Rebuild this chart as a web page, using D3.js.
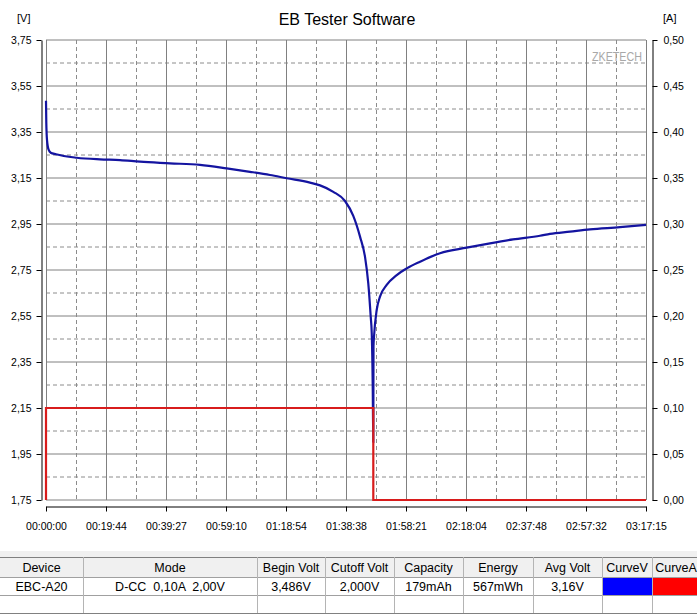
<!DOCTYPE html>
<html>
<head>
<meta charset="utf-8">
<script src="https://cdn.jsdelivr.net/npm/d3@7/dist/d3.min.js"></script>
<style>
body { margin: 0; background: #fff; }
svg { display: block; font-family: "Liberation Sans", Arial, sans-serif; }
</style>
</head>
<body>
<script>
// ---------------------------------------------------------------------------
// Data read off the EB Tester discharge log
// ---------------------------------------------------------------------------
var totalSeconds = 11835;   // 03:17:15

var timeLabels = ["00:00:00", "00:19:44", "00:39:27", "00:59:10", "01:18:54",
    "01:38:38", "01:58:21", "02:18:04", "02:37:48", "02:57:32", "03:17:15"];

var voltTicks = [1.75, 1.95, 2.15, 2.35, 2.55, 2.75, 2.95, 3.15, 3.35, 3.55,
    3.75];
var ampTicks = [0, 0.05, 0.10, 0.15, 0.20, 0.25, 0.30, 0.35, 0.40, 0.45, 0.50];

// voltage curve (seconds, volts)
var voltTime = [0, 6, 20, 53, 93, 197, 606, 1065, 1460, 1854, 2446, 3038,
    3564, 4024, 4418, 4748, 5207, 5405, 5667, 5898, 6061, 6194, 6292, 6357,
    6405, 6425, 6444, 6456, 6460, 6470, 6523, 6588, 6720, 6918, 7115, 7377,
    7772, 8298, 8758, 9212, 9744, 9941, 10336, 10730, 11322, 11835];
var voltValues = [3.486, 3.389, 3.315, 3.272, 3.260, 3.253, 3.238, 3.231,
    3.228, 3.221, 3.214, 3.207, 3.192, 3.177, 3.163, 3.149, 3.130, 3.118,
    3.090, 3.050, 2.985, 2.895, 2.808, 2.692, 2.547, 2.476, 2.259, 2.000,
    2.420, 2.460, 2.576, 2.634, 2.685, 2.728, 2.757, 2.786, 2.823, 2.847,
    2.866, 2.883, 2.899, 2.907, 2.917, 2.927, 2.936, 2.946];

// current curve (seconds, amps)
var ampTime = [0, 0, 6456, 6456, 11835];
var ampValues = [0, 0.10, 0.10, 0, 0];

// summary table
var tableHeaders = ["Device", "Mode", "Begin Volt", "Cutoff Volt", "Capacity",
    "Energy", "Avg Volt", "CurveV", "CurveA"];
var tableValues = ["EBC-A20", "D-CC  0,10A  2,00V", "3,486V", "2,000V",
    "179mAh", "567mWh", "3,16V", "", ""];
var curveColors = ["#0000ff", "#ff0000"];

// ---------------------------------------------------------------------------
var W = 697, H = 614;
var plot = {left: 46, right: 646, top: 40, bottom: 500};

var svg = d3.select("body").append("svg")
    .attr("width", W)
    .attr("height", H);

var xScale = d3.scaleLinear().domain([0, totalSeconds])
    .range([plot.left, plot.right]);
var yVolt = d3.scaleLinear().domain([1.75, 3.75])
    .range([plot.bottom, plot.top]);
var yAmp = d3.scaleLinear().domain([0, 0.5])
    .range([plot.bottom, plot.top]);

var comma = function(f) {
    return function(d) { return d3.format(f)(d).replace(".", ","); };
};

// x positions of the time ticks, one per label
var xTicks = timeLabels.map(function(d, i) {
    return i * totalSeconds / (timeLabels.length - 1);
});

// grid: solid lines on ticks, dashed half way between
var grid = svg.append("g");
voltTicks.forEach(function(v, i) {
    grid.append("line")
        .attr("x1", plot.left).attr("x2", plot.right)
        .attr("y1", yVolt(v)).attr("y2", yVolt(v))
        .attr("stroke", "#808080");
    if (i < voltTicks.length - 1) {
        var mid = yVolt(v + 0.1);
        grid.append("line")
            .attr("x1", plot.left).attr("x2", plot.right)
            .attr("y1", mid).attr("y2", mid)
            .attr("stroke", "#8c8c8c")
            .attr("stroke-dasharray", "4,3");
    }
});
xTicks.forEach(function(t, i) {
    var x = Math.round(xScale(t)) + 0.5;
    grid.append("line")
        .attr("x1", x).attr("x2", x)
        .attr("y1", plot.top).attr("y2", plot.bottom)
        .attr("stroke", "#808080");
    if (i < xTicks.length - 1) {
        var mx = Math.round(xScale(t + totalSeconds / 20)) + 0.5;
        grid.append("line")
            .attr("x1", mx).attr("x2", mx)
            .attr("y1", plot.top).attr("y2", plot.bottom)
            .attr("stroke", "#8c8c8c")
            .attr("stroke-dasharray", "4,3");
    }
});

// watermark
svg.append("text")
    .attr("x", 642).attr("y", 61)
    .attr("text-anchor", "end")
    .attr("font-size", "12px")
    .attr("fill", "#a8a8a8")
    .attr("textLength", 50)
    .attr("lengthAdjust", "spacingAndGlyphs")
    .text("ZKETECH");

// axes
var leftAxis = svg.append("g")
    .attr("transform", "translate(41.5,0)")
    .call(d3.axisLeft(yVolt).tickValues(voltTicks).tickFormat(comma(".2f"))
        .tickSize(5).tickSizeOuter(0).tickPadding(5));

var rightAxis = svg.append("g")
    .attr("transform", "translate(652.5,0)")
    .call(d3.axisRight(yAmp).tickValues(ampTicks).tickFormat(comma(".2f"))
        .tickSize(5).tickSizeOuter(0).tickPadding(6));

var bottomAxis = svg.append("g")
    .attr("transform", "translate(0,506.5)")
    .call(d3.axisBottom(xScale).tickValues(xTicks)
        .tickFormat(function(d, i) { return timeLabels[i]; })
        .tickSize(5).tickSizeOuter(0).tickPadding(11));

[leftAxis, rightAxis, bottomAxis].forEach(function(a) {
    a.selectAll("text").attr("font-size", "10.5px")
        .attr("font-family", "Liberation Sans, Arial, sans-serif")
        .attr("fill", "#000");
    a.selectAll("path, line").attr("stroke", "#000");
});

// curves
var voltLine = d3.line()
    .curve(d3.curveMonotoneX)
    .x(function(d) { return xScale(d[0]); })
    .y(function(d) { return yVolt(d[1]); });
var ampLine = d3.line()
    .x(function(d) { return xScale(d[0]); })
    .y(function(d) { return yAmp(d[1]); });

svg.append("path")
    .datum(d3.zip(voltTime, voltValues))
    .attr("d", voltLine)
    .attr("fill", "none")
    .attr("stroke", "#1414a0")
    .attr("stroke-width", 2.2)
    .attr("stroke-linejoin", "round");

svg.append("path")
    .datum(d3.zip(ampTime, ampValues))
    .attr("d", ampLine)
    .attr("fill", "none")
    .attr("stroke", "#d81c1c")
    .attr("stroke-width", 2.2);

// titles
svg.append("text")
    .attr("x", 347).attr("y", 25)
    .attr("text-anchor", "middle")
    .attr("font-size", "16px")
    .text("EB Tester Software");
svg.append("text")
    .attr("x", 17).attr("y", 22)
    .attr("font-size", "11px")
    .text("[V]");
svg.append("text")
    .attr("x", 663).attr("y", 22)
    .attr("font-size", "11px")
    .text("[A]");

// ---------------------------------------------------------------------------
// summary table under the chart
// ---------------------------------------------------------------------------
var colEdges = [0, 83, 257, 325, 394, 463, 533, 602, 652, 700];
var rowTop = 557, headerH = 20, rowH = 18;
var table = svg.append("g");

table.append("rect")
    .attr("x", 0).attr("y", 551).attr("width", W).attr("height", 6)
    .attr("fill", "#f0f0f0");
table.append("rect")
    .attr("x", 0).attr("y", rowTop).attr("width", W).attr("height", headerH)
    .attr("fill", "#f0f0f0");

// colour swatches
curveColors.forEach(function(c, i) {
    table.append("rect")
        .attr("x", colEdges[7 + i] + 1)
        .attr("y", rowTop + headerH + 1)
        .attr("width", colEdges[8 + i] - colEdges[7 + i] - 1)
        .attr("height", rowH - 1)
        .attr("fill", c);
});

// horizontal rules
[rowTop, rowTop + headerH, rowTop + headerH + rowH,
    rowTop + headerH + 2 * rowH].forEach(function(y, i) {
    table.append("line")
        .attr("x1", 0).attr("x2", W)
        .attr("y1", y + 0.5).attr("y2", y + 0.5)
        .attr("stroke", i === 0 || i === 3 ? "#808080" : "#a0a0a0");
});
// vertical rules
colEdges.slice(1, -1).forEach(function(x) {
    table.append("line")
        .attr("x1", x + 0.5).attr("x2", x + 0.5)
        .attr("y1", rowTop).attr("y2", rowTop + headerH + 2 * rowH)
        .attr("stroke", "#b4b4b4");
});

tableHeaders.forEach(function(h, i) {
    var cx = (colEdges[i] + colEdges[i + 1]) / 2;
    table.append("text")
        .attr("x", cx).attr("y", rowTop + 14.5)
        .attr("text-anchor", "middle")
        .attr("font-size", "12.5px")
        .text(h);
    table.append("text")
        .attr("x", cx).attr("y", rowTop + headerH + 13.5)
        .attr("text-anchor", "middle")
        .attr("font-size", "12.5px")
        .attr("xml:space", "preserve")
        .style("white-space", "pre")
        .text(tableValues[i]);
});
</script>
</body>
</html>
